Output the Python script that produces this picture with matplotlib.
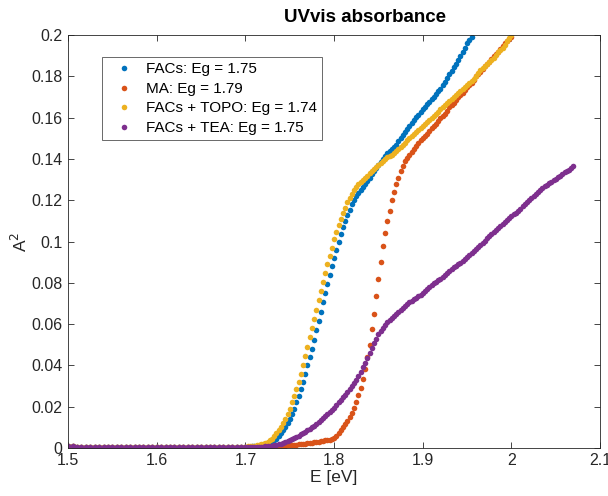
import numpy as np
import matplotlib
matplotlib.use("Agg")
import matplotlib.pyplot as plt

plt.rcParams['font.family'] = ['Liberation Sans', 'DejaVu Sans']

# Flat baseline region: 1.500 - 1.695 eV (step 0.005)
E_flat_start, E_flat_step = 1.500, 0.005
flat = [0.0010, 0.0008, 0.0006, 0.0005, 0.0004, 0.0004, 0.0003, 0.0003, 0.0003, 0.0003,
        0.0003, 0.0003, 0.0003, 0.0003, 0.0003, 0.0003, 0.0003, 0.0003, 0.0003, 0.0003,
        0.0003, 0.0003, 0.0003, 0.0003, 0.0003, 0.0003, 0.0003, 0.0003, 0.0003, 0.0003,
        0.0003, 0.0003, 0.0003, 0.0003, 0.0003, 0.0003, 0.0003, 0.0003, 0.0003, 0.0003]

# Absorption edge region starting at 1.700 eV (step 0.0025)
E_rise_start, E_rise_step = 1.700, 0.0025

facs_rise = [0.0005, 0.0005, 0.0006, 0.0007, 0.0008, 0.0009, 0.0010, 0.0012, 0.0015, 0.0017,
             0.0020, 0.0025, 0.0030, 0.0037, 0.0045, 0.0057, 0.0070, 0.0085, 0.0100, 0.0120,
             0.0140, 0.0165, 0.0190, 0.0220, 0.0250, 0.0285, 0.0320, 0.0360, 0.0400, 0.0440,
             0.0480, 0.0525, 0.0570, 0.0615, 0.0660, 0.0705, 0.0750, 0.0795, 0.0840, 0.0880,
             0.0920, 0.0960, 0.1000, 0.1035, 0.1070, 0.1100, 0.1130, 0.1155, 0.1180, 0.1200,
             0.1220, 0.1235, 0.1250, 0.1265, 0.1280, 0.1295, 0.1310, 0.1325, 0.1340, 0.1355,
             0.1370, 0.1385, 0.1400, 0.1415, 0.1430, 0.1440, 0.1450, 0.1460, 0.1470, 0.1485,
             0.1500, 0.1515, 0.1530, 0.1545, 0.1560, 0.1575, 0.1590, 0.1602, 0.1615, 0.1628,
             0.1640, 0.1652, 0.1665, 0.1678, 0.1690, 0.1702, 0.1715, 0.1728, 0.1740, 0.1758,
             0.1775, 0.1792, 0.1810, 0.1828, 0.1845, 0.1862, 0.1880, 0.1900, 0.1920, 0.1940,
             0.1960, 0.1975, 0.1990]

ma_rise = [0.0002, 0.0002, 0.0002, 0.0003, 0.0003, 0.0003, 0.0003, 0.0004, 0.0004, 0.0005,
           0.0005, 0.0006, 0.0006, 0.0007, 0.0007, 0.0008, 0.0009, 0.0010, 0.0011, 0.0012,
           0.0013, 0.0014, 0.0015, 0.0016, 0.0017, 0.0018, 0.0019, 0.0021, 0.0022, 0.0024,
           0.0025, 0.0027, 0.0028, 0.0030, 0.0032, 0.0034, 0.0036, 0.0038, 0.0040, 0.0045,
           0.0050, 0.0060, 0.0070, 0.0085, 0.0100, 0.0115, 0.0130, 0.0150, 0.0170, 0.0195,
           0.0220, 0.0255, 0.0290, 0.0335, 0.0380, 0.0440, 0.0500, 0.0575, 0.0650, 0.0735,
           0.0820, 0.0900, 0.0980, 0.1040, 0.1100, 0.1150, 0.1200, 0.1240, 0.1280, 0.1310,
           0.1340, 0.1365, 0.1390, 0.1405, 0.1420, 0.1435, 0.1450, 0.1465, 0.1480, 0.1490,
           0.1500, 0.1510, 0.1520, 0.1535, 0.1550, 0.1560, 0.1570, 0.1585, 0.1600, 0.1610,
           0.1620, 0.1635, 0.1650, 0.1660, 0.1670, 0.1685, 0.1700, 0.1710, 0.1720, 0.1735,
           0.1750, 0.1760, 0.1770, 0.1785, 0.1800, 0.1810, 0.1820, 0.1835, 0.1850, 0.1860,
           0.1870, 0.1885, 0.1900, 0.1910, 0.1920, 0.1935, 0.1950, 0.1960, 0.1970, 0.1980,
           0.1990]

topo_rise = [0.0006, 0.0007, 0.0008, 0.0009, 0.0010, 0.0012, 0.0015, 0.0017, 0.0020, 0.0025,
             0.0030, 0.0037, 0.0045, 0.0057, 0.0070, 0.0085, 0.0100, 0.0120, 0.0140, 0.0165,
             0.0190, 0.0220, 0.0250, 0.0285, 0.0320, 0.0360, 0.0400, 0.0445, 0.0490, 0.0535,
             0.0580, 0.0625, 0.0670, 0.0715, 0.0760, 0.0805, 0.0850, 0.0890, 0.0930, 0.0970,
             0.1010, 0.1045, 0.1080, 0.1110, 0.1140, 0.1165, 0.1190, 0.1210, 0.1230, 0.1248,
             0.1265, 0.1278, 0.1290, 0.1300, 0.1310, 0.1320, 0.1330, 0.1340, 0.1350, 0.1360,
             0.1370, 0.1380, 0.1390, 0.1400, 0.1410, 0.1415, 0.1420, 0.1430, 0.1440, 0.1450,
             0.1460, 0.1470, 0.1480, 0.1490, 0.1500, 0.1510, 0.1520, 0.1530, 0.1540, 0.1550,
             0.1560, 0.1570, 0.1580, 0.1590, 0.1600, 0.1610, 0.1620, 0.1630, 0.1640, 0.1650,
             0.1660, 0.1670, 0.1680, 0.1690, 0.1700, 0.1710, 0.1720, 0.1730, 0.1740, 0.1750,
             0.1760, 0.1770, 0.1780, 0.1790, 0.1800, 0.1815, 0.1830, 0.1840, 0.1850, 0.1860,
             0.1870, 0.1880, 0.1890, 0.1905, 0.1920, 0.1930, 0.1940, 0.1955, 0.1970, 0.1985,
             0.2000]

tea_rise = [0.0003, 0.0003, 0.0003, 0.0003, 0.0004, 0.0004, 0.0005, 0.0005, 0.0006, 0.0007,
            0.0008, 0.0009, 0.0010, 0.0012, 0.0014, 0.0017, 0.0020, 0.0024, 0.0028, 0.0033,
            0.0038, 0.0043, 0.0048, 0.0054, 0.0060, 0.0066, 0.0072, 0.0079, 0.0086, 0.0093,
            0.0100, 0.0108, 0.0116, 0.0125, 0.0135, 0.0145, 0.0155, 0.0165, 0.0175, 0.0185,
            0.0195, 0.0208, 0.0220, 0.0233, 0.0245, 0.0258, 0.0270, 0.0285, 0.0300, 0.0315,
            0.0330, 0.0350, 0.0370, 0.0390, 0.0410, 0.0435, 0.0460, 0.0485, 0.0510, 0.0530,
            0.0550, 0.0565, 0.0580, 0.0595, 0.0610, 0.0620, 0.0630, 0.0640, 0.0650, 0.0660,
            0.0670, 0.0680, 0.0690, 0.0698, 0.0705, 0.0713, 0.0720, 0.0728, 0.0735, 0.0743,
            0.0750, 0.0760, 0.0770, 0.0780, 0.0790, 0.0798, 0.0805, 0.0813, 0.0820, 0.0830,
            0.0840, 0.0848, 0.0855, 0.0865, 0.0875, 0.0883, 0.0890, 0.0898, 0.0905, 0.0915,
            0.0925, 0.0935, 0.0945, 0.0955, 0.0965, 0.0975, 0.0985, 0.0995, 0.1005, 0.1015,
            0.1025, 0.1035, 0.1045, 0.1055, 0.1065, 0.1075, 0.1085, 0.1095, 0.1105, 0.1115,
            0.1125, 0.1135, 0.1140, 0.1150, 0.1160, 0.1170, 0.1180, 0.1190, 0.1200, 0.1210,
            0.1220, 0.1230, 0.1240, 0.1250, 0.1260, 0.1268, 0.1275, 0.1283, 0.1290, 0.1298,
            0.1305, 0.1313, 0.1320, 0.1328, 0.1335, 0.1340, 0.1345, 0.1355, 0.1365]

labels = ["FACs: Eg = 1.75", "MA: Eg = 1.79", "FACs + TOPO: Eg = 1.74", "FACs + TEA: Eg = 1.75"]
rises = [facs_rise, ma_rise, topo_rise, tea_rise]
colors = ["#0072BD", "#D95319", "#EDB120", "#7E2F8E"]

x_flat = E_flat_start + E_flat_step * np.arange(len(flat))

fig = plt.figure(figsize=(6.08, 4.96), dpi=100)
ax = fig.add_axes([0.112, 0.097, 0.875, 0.832])

for label, rise, c in zip(labels, rises, colors):
    x_rise = E_rise_start + E_rise_step * np.arange(len(rise))
    x = np.concatenate([x_flat, x_rise])
    y = np.array(flat + rise)
    ax.plot(x, y, linestyle='none', marker='o', markersize=4.0,
            markeredgewidth=0, color=c, label=label)

ax.set_xlim(1.5, 2.1)
ax.set_ylim(0, 0.2)
ax.set_xticks([1.5, 1.6, 1.7, 1.8, 1.9, 2.0, 2.1])
ax.set_xticklabels(['1.5', '1.6', '1.7', '1.8', '1.9', '2', '2.1'])
ax.set_yticks(np.round(np.arange(0, 0.2001, 0.02), 2))
ax.set_yticklabels(['0', '0.02', '0.04', '0.06', '0.08', '0.1', '0.12', '0.14', '0.16', '0.18', '0.2'])
ax.tick_params(direction='in', length=4, width=0.6, top=True, right=True,
               labelsize=11.5, colors='#262626', pad=4)
for s in ax.spines.values():
    s.set_color('#262626')
    s.set_linewidth(0.6)

ax.set_xlabel('E [eV]', fontsize=12.5, color='#262626', labelpad=1)
ax.set_ylabel('A$^2$', fontsize=12.5, color='#262626', labelpad=1)
fig.text(365 / 608, 1 - 18 / 496, 'UVvis absorbance', fontsize=13.5, fontweight='bold',
         ha='center', va='center', color='black')

leg = ax.legend(loc='upper left', bbox_to_anchor=(0.064, 0.947), borderaxespad=0,
                fontsize=11, frameon=True, fancybox=False, edgecolor='#262626',
                handlelength=2.2, handletextpad=0.3, borderpad=0.35,
                labelspacing=0.36, markerscale=1.0)
leg.get_frame().set_linewidth(0.6)

fig.savefig('out.png', dpi=100)
